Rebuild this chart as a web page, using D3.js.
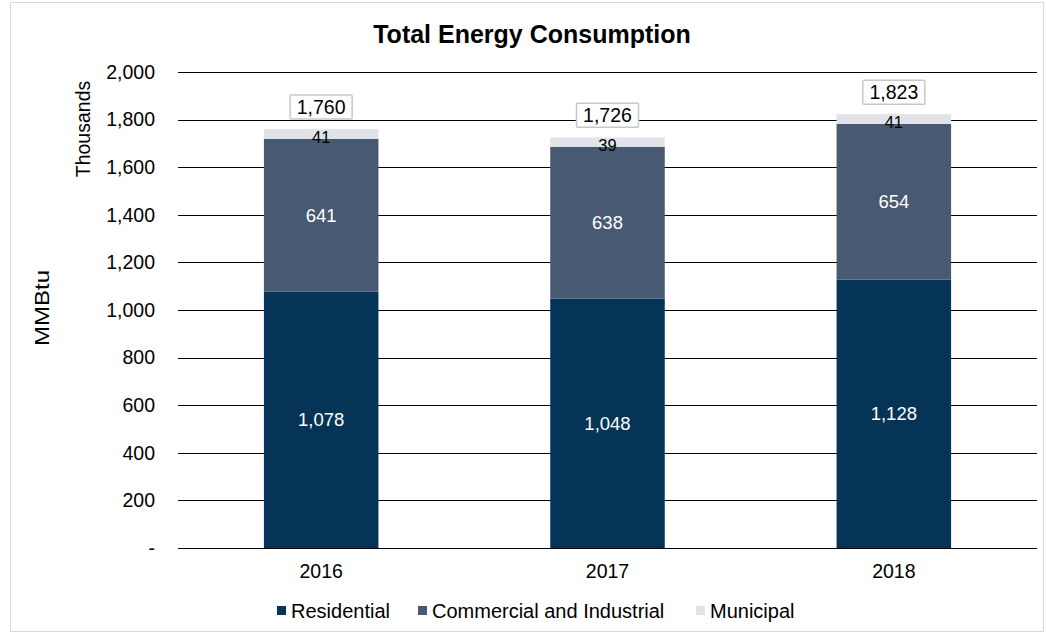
<!DOCTYPE html>
<html><head><meta charset="utf-8">
<script src="https://cdn.jsdelivr.net/npm/d3@7"></script>
<style>body{margin:0;background:#fff;font-family:"Liberation Sans",Arial,sans-serif;}</style>
</head><body>
<svg id="c" width="1046" height="635"></svg>
<script>
const years = ["2016","2017","2018"];
const residential = [1078,1048,1128];
const commercial = [641,638,654];
const municipal = [41,39,41];
const totals = [1760,1726,1823];
const seriesNames = ["Residential","Commercial and Industrial","Municipal"];
const colors = ["#063456","#475a72","#e1e3e8"];
const yTicks = [0,200,400,600,800,1000,1200,1400,1600,1800,2000];

const svg = d3.select("#c");
svg.append("rect").attr("x",10.5).attr("y",2.5).attr("width",1033).attr("height",629)
  .attr("fill","#fff").attr("stroke","#d9d9d9").attr("stroke-width",1);

const m = {l:178, r:1037, t:72, b:548};
const x = d3.scaleBand().domain(years).range([m.l,m.r]).paddingInner(0.6).paddingOuter(0.3);
const y = d3.scaleLinear().domain([0,2000]).range([m.b,m.t]);

// gridlines
svg.append("g").selectAll("line").data(yTicks).join("line")
  .attr("x1",m.l).attr("x2",m.r).attr("y1",d=>Math.round(y(d))+0.5).attr("y2",d=>Math.round(y(d))+0.5)
  .attr("stroke","#000").attr("stroke-width",1);

// y axis labels
const fmt = d3.format(",");
svg.append("g").selectAll("text").data(yTicks).join("text")
  .attr("x",155).attr("y",d=>y(d)).attr("dy","0.35em").attr("text-anchor","end")
  .attr("font-size",19.5).attr("fill","#000").text(d=>d===0?"-":fmt(d));

const data = years.map((yr,i)=>({year:yr, Residential:residential[i], "Commercial and Industrial":commercial[i], Municipal:municipal[i], total:totals[i]}));
const stack = d3.stack().keys(seriesNames)(data);

const g = svg.append("g");
stack.forEach((s,si)=>{
  g.selectAll(null).data(s).join("rect")
    .attr("x",d=>x(d.data.year)).attr("width",x.bandwidth())
    .attr("y",d=>y(d[1])).attr("height",d=>y(d[0])-y(d[1]))
    .attr("fill",colors[si]);
});
// segment labels
stack.forEach((s,si)=>{
  g.selectAll(null).data(s).join("text")
    .attr("x",d=>x(d.data.year)+x.bandwidth()/2)
    .attr("y",d=> si===2 ? y(d[1])+2 : (y(d[0])+y(d[1]))/2)
    .attr("dy", si===2 ? "0.72em" : "0.35em")
    .attr("text-anchor","middle").attr("font-size",si===2?16.5:18.5)
    .attr("fill",si===2?"#000":"#fff")
    .text(d=>fmt(d[1]-d[0]));
});
// total labels
const tg = g.selectAll("g.tot").data(data).join("g").attr("class","tot")
  .attr("transform",d=>`translate(${x(d.year)+x.bandwidth()/2},${y(d.total)-22})`);
tg.append("rect").attr("x",-31).attr("y",-12).attr("width",62).attr("height",24)
  .attr("fill","#fff").attr("stroke","#c8c8c8").attr("stroke-width",1.5).attr("rx",1);
tg.append("text").attr("text-anchor","middle").attr("dy","0.36em").attr("font-size",19.5)
  .attr("fill","#000").text(d=>fmt(d.total));

// x axis labels
svg.append("g").selectAll("text").data(years).join("text")
  .attr("x",d=>x(d)+x.bandwidth()/2).attr("y",578).attr("text-anchor","middle")
  .attr("font-size",19.5).attr("fill","#000").text(d=>d);

// title
svg.append("text").attr("x",532).attr("y",43).attr("text-anchor","middle")
  .attr("font-size",25).attr("font-weight","bold").attr("fill","#000").text("Total Energy Consumption");

// axis titles
svg.append("text").attr("transform","translate(49,308) rotate(-90)").attr("text-anchor","middle")
  .attr("font-size",20).attr("textLength",76).attr("lengthAdjust","spacingAndGlyphs")
  .attr("fill","#000").text("MMBtu");
svg.append("text").attr("transform","translate(90,129) rotate(-90)").attr("text-anchor","middle")
  .attr("font-size",19.5).attr("fill","#000").text("Thousands");

// legend
const legX = [277, 418, 696];
const lg = svg.append("g").selectAll("g").data(seriesNames).join("g")
  .attr("transform",(d,i)=>`translate(${legX[i]},611)`);
lg.append("rect").attr("x",0).attr("y",-5).attr("width",9).attr("height",9).attr("fill",(d,i)=>colors[i]);
lg.append("text").attr("x",14).attr("dy","0.35em").attr("font-size",20).attr("fill","#000").text(d=>d);
</script>
</body></html>
